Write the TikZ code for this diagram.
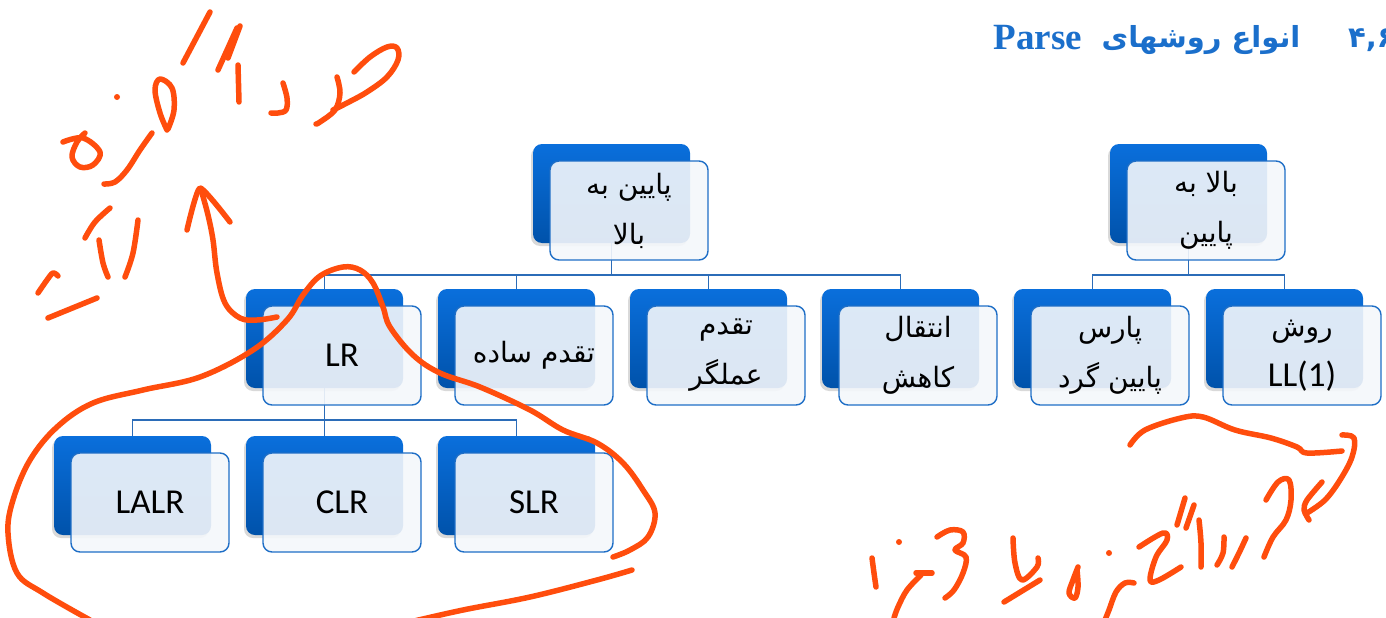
\documentclass[tikz,border=0pt]{standalone}
\usepackage{fontspec}
\setmainfont{Carlito}
\newfontfamily\arabicfont[Script=Arabic]{DejaVu Sans}
\newfontfamily\titlefont{Liberation Serif}
\TeXXeTstate=1
\usetikzlibrary{shadows}

\definecolor{boxblue}{HTML}{0A6FDC}
\definecolor{boxdark}{HTML}{0052AA}
\definecolor{paleface}{HTML}{F4F7FB}
\definecolor{edgeblue}{HTML}{1E6EC6}
\definecolor{linkblue}{HTML}{2B6CB8}
\definecolor{titleblue}{HTML}{1B6FCB}
\definecolor{ink}{HTML}{FF4D0D}

% Persian text, set right to left
\newcommand\fa[1]{{\arabicfont\fontsize{28pt}{50pt}\selectfont\beginR #1\endR}}

\tikzset{
  backbox/.style={rectangle, rounded corners=9pt, minimum width=157pt,
    minimum height=99pt, inner sep=0pt, outer sep=0pt, anchor=north west,
    top color=boxblue, bottom color=boxdark,
    drop shadow={shadow xshift=-2pt, shadow yshift=-3pt, opacity=0.3}},
  facebox/.style={rectangle, rounded corners=9pt, minimum width=158pt,
    minimum height=99pt, inner sep=0pt, outer sep=0pt, anchor=north west,
    fill=paleface, fill opacity=0.9, text opacity=1, draw=edgeblue,
    line width=1.4pt, align=center, font=\fontsize{35pt}{50pt}\selectfont},
  link/.style={draw=linkblue, line width=1.2pt},
  inkline/.style={draw=ink, line width=5.5pt, line cap=round, line join=round},
}

\begin{document}
\begin{tikzpicture}[x=1pt, y=-1pt]
\useasboundingbox (0,0) rectangle (1386,618);

% ---- heading ----
\node[text=titleblue, font=\titlefont\bfseries\fontsize{37pt}{40pt}\selectfont] (ttlparse) at (1038,38) {Parse};
\node[text=titleblue, font=\arabicfont\bfseries\fontsize{29pt}{40pt}\selectfont] (ttlfa) at (1201,40) {\beginR انواع روشهای\endR};
\node[text=titleblue, anchor=west, inner sep=0pt, font=\arabicfont\bfseries\fontsize{29pt}{40pt}\selectfont] (ttlnum) at (1348,40) {۴,۶};

% ---- blue back plates ----
\node[backbox] (buB)   at (533,144) {};
\node[backbox] (tdB)   at (1110,144) {};
\node[backbox] (lrB)   at (246,289) {};
\node[backbox] (spB)   at (438,289) {};
\node[backbox] (opB)   at (630,289) {};
\node[backbox] (srB)   at (822,289) {};
\node[backbox] (rdB)   at (1014,289) {};
\node[backbox] (llB)   at (1206,289) {};
\node[backbox] (lalrB) at (54,436) {};
\node[backbox] (clrB)  at (246,436) {};
\node[backbox] (slrB)  at (438,436) {};

% ---- tree connectors ----
\foreach \c in {lrB,spB,opB,srB}
  \draw[link] (buB.south) -- ++(0,32) -| (\c.north);
\foreach \c in {rdB,llB}
  \draw[link] (tdB.south) -- ++(0,32) -| (\c.north);
\foreach \c in {lalrB,clrB,slrB}
  \draw[link] (lrB.south) -- ++(0,32) -| (\c.north);

% ---- labelled front cards ----
\node[facebox] (bu)   at (550,161)  {\fa{پایین به}\\\fa{بالا}};
\node[facebox] (td)   at (1127,161) {\fa{بالا به}\\\fa{پایین}};
\node[facebox] (lr)   at (263,306)  {LR};
\node[facebox] (sp)   at (455,306)  {\fa{تقدم ساده}};
\node[facebox] (op)   at (647,306)  {\fa{تقدم}\\\fa{عملگر}};
\node[facebox] (sr)   at (839,306)  {\fa{انتقال}\\\fa{کاهش}};
\node[facebox] (rd)   at (1031,306) {\fa{پارس}\\\fa{پایین گرد}};
\node[facebox] (ll)   at (1223,306) {\fa{روش}\\LL(1)};
\node[facebox] (lalr) at (71,453)   {LALR};
\node[facebox] (clr)  at (263,453)  {CLR};
\node[facebox] (slr)  at (455,453)  {SLR};

% ---- pen notes, upper left ----
\draw[inkline] plot[smooth, tension=0.6] coordinates {(354,72)(370,57)(387,47)(397,48)(398,60)(387,77)(367,92)(347,103)(333,110)};
\draw[inkline] plot[smooth, tension=0.6] coordinates {(337,77)(340,93)(335,110)(320,122)(316,124)};
\draw[inkline] plot[smooth, tension=0.6] coordinates {(283,83)(287,98)(286,110)(278,113)(271,113)};
\draw[inkline] (238,65) -- (239,102);
\draw[inkline] (218,70) -- (237,28);
\draw[inkline] (228,58) -- (240,26);
\draw[inkline] (183,63) -- (210,12);
\draw[inkline] plot[smooth, tension=0.6] coordinates {(168,129)(174,110)(172,88)(160,79)(155,90)(160,113)(167,130)};
\draw[inkline] plot[smooth, tension=0.6] coordinates {(152,133)(140,150)(127,170)(115,182)(104,184)};
\draw[inkline] plot[smooth, tension=0.6] coordinates {(63,142)(83,138)(100,152)(93,165)(80,167)(72,157)(77,142)(85,133)};
\fill[ink] (117,97) circle (3pt);
\draw[inkline] plot[smooth, tension=0.6] coordinates {(85,238)(95,222)(110,208)};
\draw[inkline] plot[smooth, tension=0.6] coordinates {(99,240)(103,263)(108,277)};
\draw[inkline] plot[smooth, tension=0.6] coordinates {(125,277)(133,253)(138,220)};
\draw[inkline] plot[smooth, tension=0.6] coordinates {(38,293)(47,280)(53,273)(58,276)};
\draw[inkline] (48,318) -- (97,298);

% arrow from the group up to the note
\draw[inkline] plot[smooth, tension=0.6] coordinates {(202,193)(208,215)(213,240)(217,273)(225,303)(240,318)(257,320)(277,317)};
\draw[inkline] plot[smooth, tension=0.3] coordinates {(187,230)(200,188)(230,222)};

% loop around the LR group
\draw[inkline] plot[smooth, tension=0.6] coordinates {(90,620)(43,593)(17,573)(8,533)(13,500)(30,460)(57,427)(93,403)(143,390)(200,377)(253,350)(287,320)(303,295)(320,276)(343,267)(360,270)(373,283)(383,307)(390,327)(413,355)(440,373)(480,387)(530,410)(563,430)(597,443)(623,463)(643,490)(655,513)(648,537)(630,550)(613,557)};
\draw[inkline] plot[smooth, tension=0.6] coordinates {(632,570)(597,580)(530,597)(463,610)(410,622)};

% ---- pen notes, lower right ----
\draw[inkline] plot[smooth, tension=0.6] coordinates {(1130,445)(1145,430)(1181,418)(1203,417)(1235,430)(1271,438)(1297,447)(1307,453)(1342,451)};
\draw[inkline] plot[smooth, tension=0.6] coordinates {(1342,435)(1354,438)(1352,457)(1340,480)(1325,500)(1307,513)};
\draw[inkline] plot[smooth, tension=0.5] coordinates {(1322,482)(1307,500)(1304,510)(1309,520)};
\draw[inkline] plot[smooth, tension=0.6] coordinates {(1266,500)(1278,482)(1289,480)(1291,500)(1286,520)(1273,537)(1264,557)};
\draw[inkline] plot[smooth, tension=0.6] coordinates {(1246,538)(1239,553)(1232,567)};
\draw[inkline] plot[smooth, tension=0.6] coordinates {(1224,537)(1223,553)(1217,565)};
\draw[inkline] plot[smooth, tension=0.6] coordinates {(1199,520)(1201,543)(1201,567)};
\draw[inkline] (1185,498) -- (1177,525);
\draw[inkline] (1194,505) -- (1186,528);
\draw[inkline] plot[smooth, tension=0.6] coordinates {(1139,547)(1163,533)(1167,540)(1156,557)(1150,580)(1159,580)(1181,567)};
\draw[inkline] plot[smooth, tension=0.6] coordinates {(1134,583)(1125,583)(1116,592)(1109,610)(1105,620)};
\fill[ink] (1109,553) circle (3pt);
\draw[inkline] plot[smooth, tension=0.6] coordinates {(1078,567)(1073,580)(1069,593)(1075,598)(1078,587)(1077,570)};
\draw[inkline] plot[smooth, tension=0.6] coordinates {(1013,538)(1015,563)(1022,580)(1037,567)(1038,558)};
\draw[inkline] (1004,602) -- (1040,580);
\draw[inkline] plot[smooth, tension=0.6] coordinates {(937,537)(950,530)(963,532)(963,543)(955,550)(966,557)(963,573)(954,590)(945,598)};
\draw[inkline] (916,573) -- (932,573);
\draw[inkline] plot[smooth, tension=0.6] coordinates {(921,575)(907,590)(898,607)(894,618)};
\fill[ink] (899,542) circle (3pt);
\draw[inkline] plot[smooth, tension=0.6] coordinates {(872,558)(874,573)(876,587)};
\end{tikzpicture}
\end{document}
